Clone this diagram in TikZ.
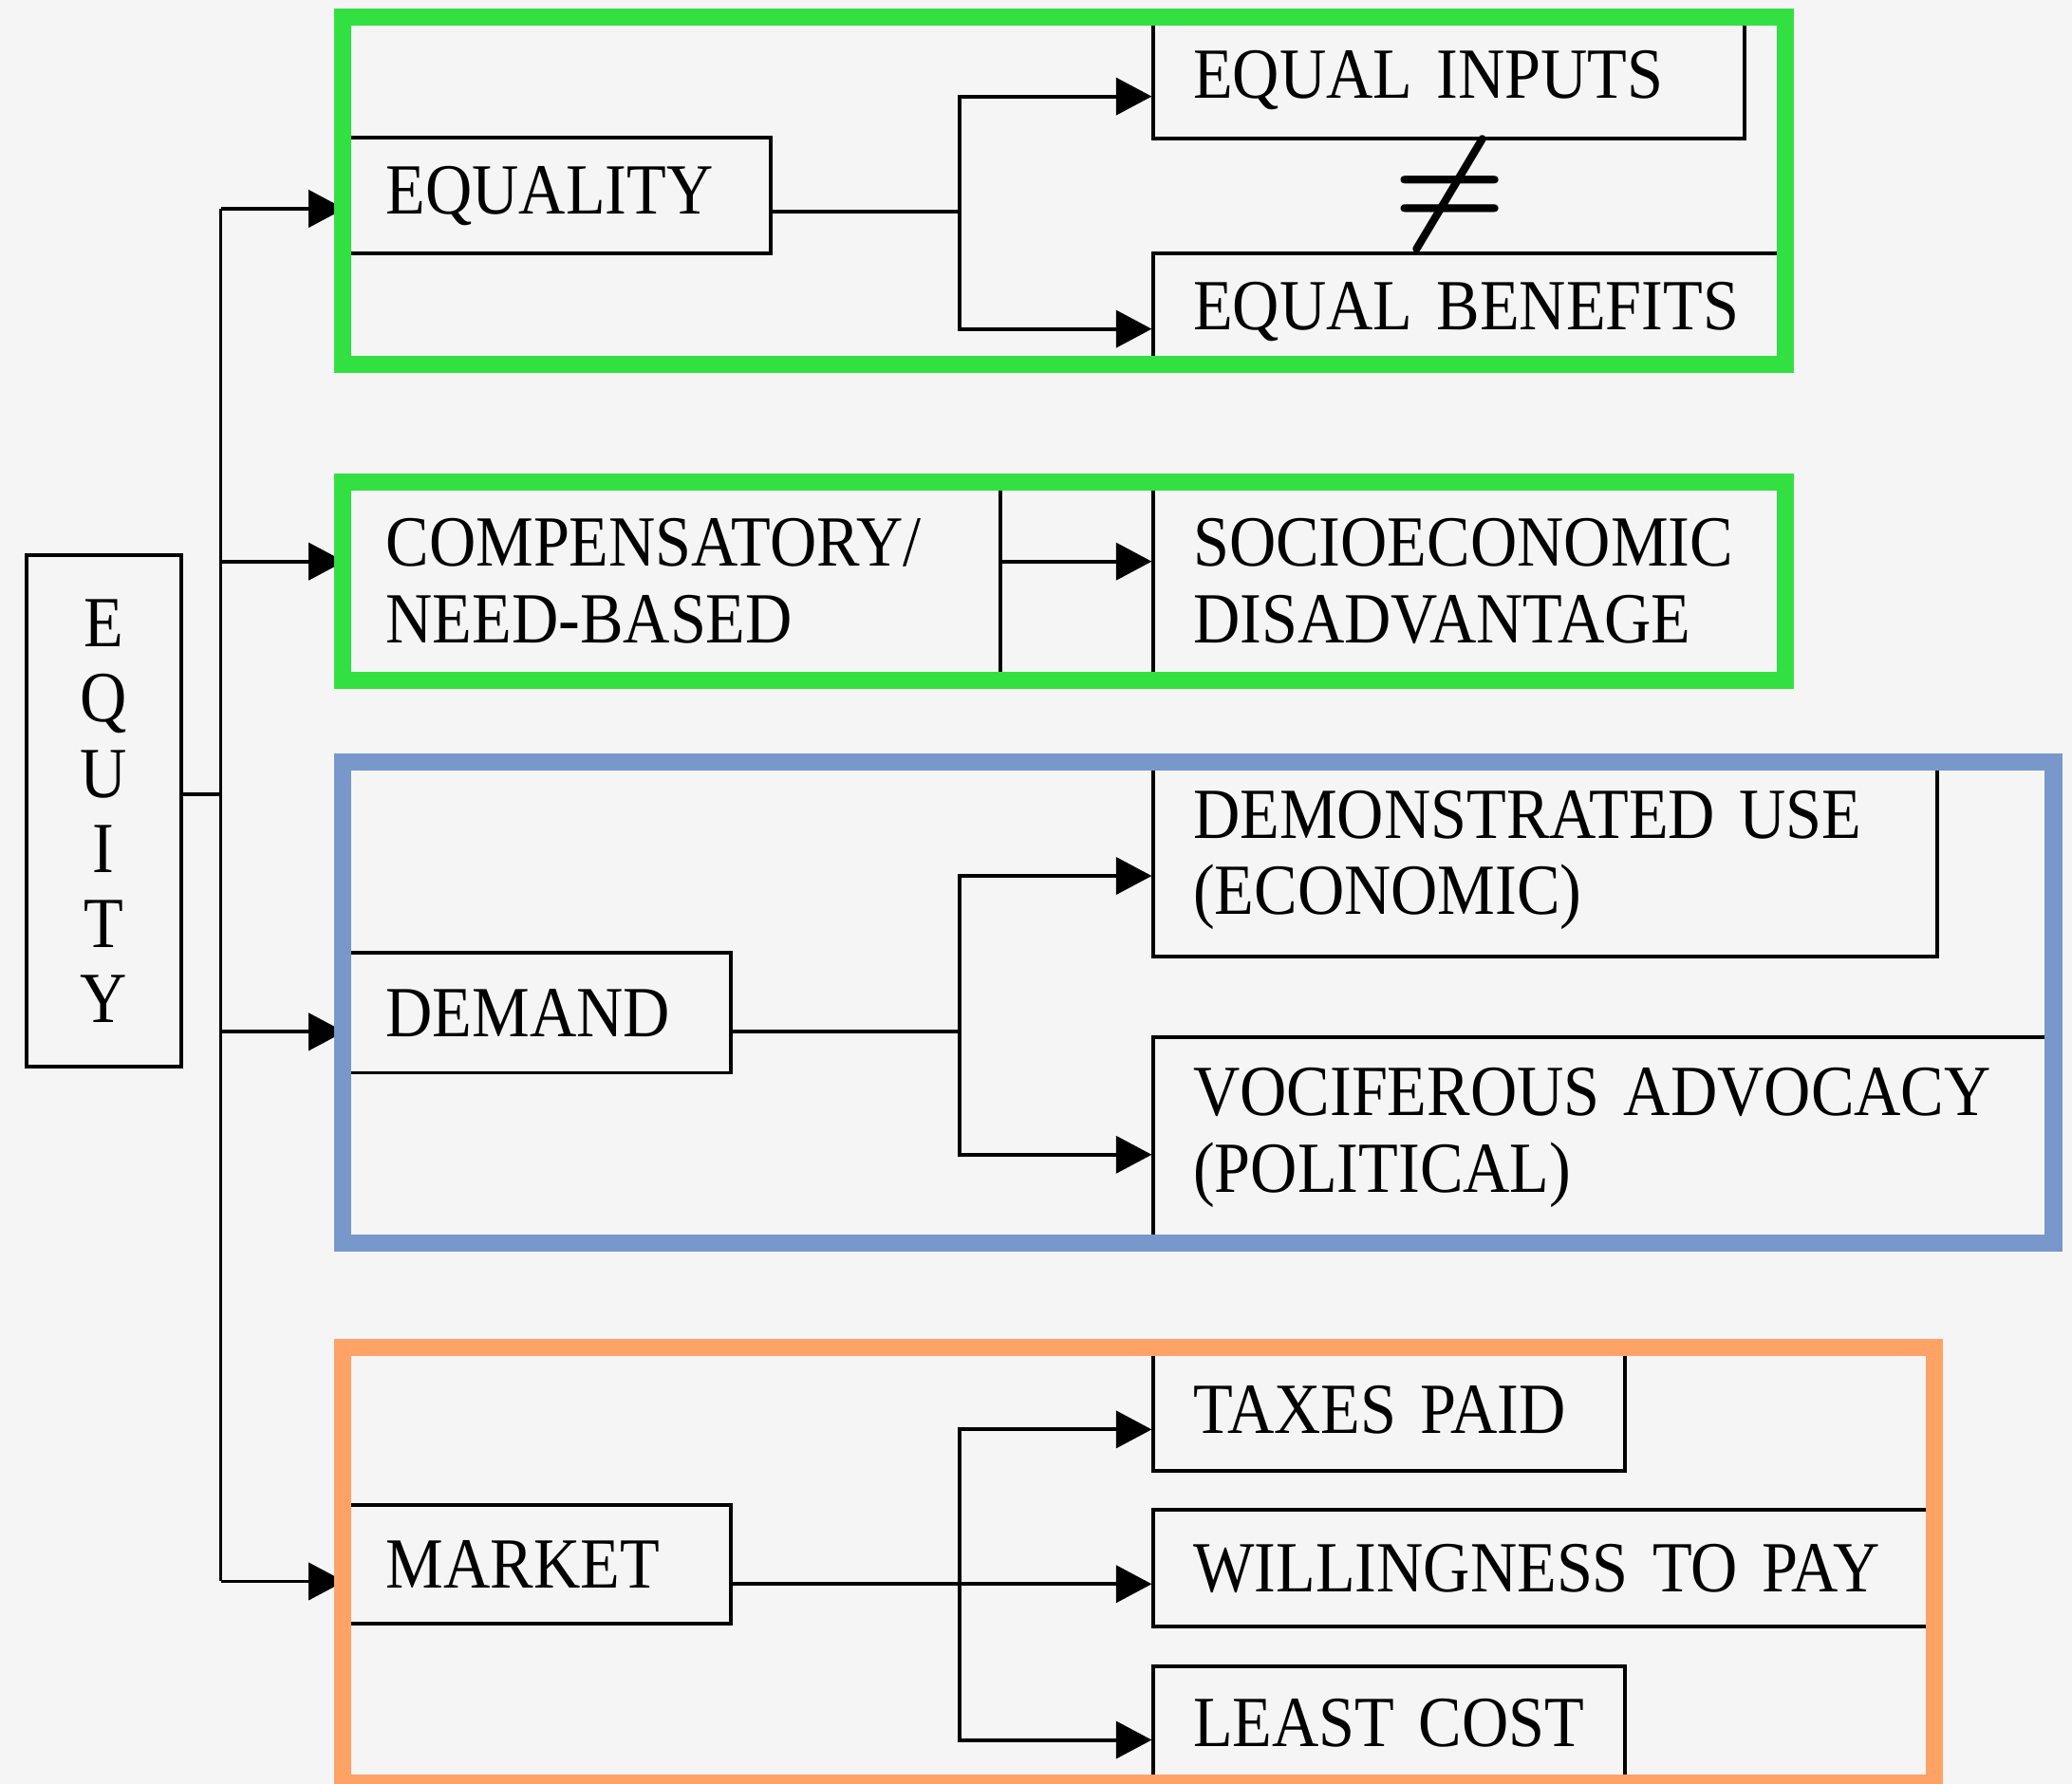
\documentclass[tikz,border=0pt]{standalone}
\usepackage{fontspec}
\setmainfont{Liberation Serif}[FakeStretch=0.9, WordSpace=0.6]
\usetikzlibrary{arrows.meta}
\hyphenpenalty=10000
\exhyphenpenalty=10000
\definecolor{bggray}{RGB}{245,245,245}
\definecolor{framegreen}{RGB}{50,224,66}
\definecolor{frameblue}{RGB}{120,152,204}
\definecolor{frameorange}{RGB}{255,162,102}
\tikzset{
  box/.style={draw, line width=0.8pt, inner xsep=0.3cm, inner ysep=0pt, align=left,
    font=\fontsize{15.5}{16.5}\selectfont},
  link/.style={line width=0.8pt},
  arr/.style={line width=0.8pt, -{Triangle[length=2.7mm,width=2.8mm]}},
  frame/.style={line width=1.3mm}
}

\begin{document}
\begin{tikzpicture}[x=0.1mm, y=-0.1mm]
    \fill [bggray] (0,0) rectangle (1568,1350);
    \useasboundingbox (0,0) rectangle (1568,1350);
    \node [box, align=center, text width=0.57cm, minimum height=3.87cm, font=\fontsize{15.5}{16.2}\selectfont] (equity) at (78.5,614) {E\\Q\\U\\I\\T\\Y};
    \node [box, text width=2.61cm, minimum height=0.88cm] (equality) at (422.5,148) {EQUALITY};
    \node [box, text width=3.87cm, minimum height=0.875cm] (inputs) at (1096.5,61) {EQUAL INPUTS};
    \node [box, text width=4.19cm, minimum height=0.88cm] (benefits) at (1112.5,236) {EQUAL BENEFITS};
    \node [box, text width=4.35cm, minimum height=1.40cm] (comp) at (509.5,440) {COMPENSATORY/\\NEED-BASED};
    \node [box, text width=4.19cm, minimum height=1.40cm] (socio) at (1112.5,440) {SOCIOECONOMIC\\DISADVANTAGE};
    \node [box, text width=2.31cm, minimum height=0.91cm] (demand) at (407.5,766.5) {DEMAND};
    \node [box, text width=5.33cm, minimum height=1.46cm] (use) at (1169.5,651) {DEMONSTRATED USE\\(ECONOMIC)};
    \node [box, text width=6.19cm, minimum height=1.52cm] (advocacy) at (1212.5,861) {VOCIFEROUS ADVOCACY\\(POLITICAL)};
    \node [box, text width=2.31cm, minimum height=0.90cm] (market) at (407.5,1184) {MARKET};
    \node [box, text width=2.97cm, minimum height=0.91cm] (taxes) at (1051.5,1067.5) {TAXES PAID};
    \node [box, text width=5.28cm, minimum height=0.88cm] (pay) at (1167,1187) {WILLINGNESS TO PAY};
    \node [box, text width=2.97cm, minimum height=0.87cm] (cost) at (1051.5,1304.5) {LEAST COST};
    \node [scale=2.75, inner sep=0pt, font=\boldmath] (neq) at (1097,147) {$\neq$};
    \coordinate (j0) at (167,601);
    \coordinate (j1) at (167,158);
    \coordinate (j2) at (167,425);
    \coordinate (j3) at (167,781);
    \coordinate (j4) at (167,1197);
    \draw [link] (equity.east |- j0) -- (j0);
    \draw [link] (j1) -- (j4);
    \draw [arr] (j1) -- (equality.west |- j1);
    \draw [arr] (j2) -- (comp.west |- j2);
    \draw [arr] (j3) -- (demand.west |- j3);
    \draw [arr] (j4) -- (market.west |- j4);
    \coordinate (s1) at (726,160);
    \draw [link] (equality.east |- s1) -- (s1);
    \draw [arr] (s1) |- (inputs.west |- 0,73);
    \draw [arr] (s1) |- (benefits.west |- 0,249);
    \draw [arr] (comp.east |- 0,425) -- (socio.west |- 0,425);
    \coordinate (s3) at (726,781);
    \draw [link] (demand.east |- s3) -- (s3);
    \draw [arr] (s3) |- (use.west |- 0,663);
    \draw [arr] (s3) |- (advocacy.west |- 0,874);
    \coordinate (s4) at (726,1199);
    \draw [arr] (market.east |- s4) -- (pay.west |- s4);
    \draw [arr] (s4) |- (taxes.west |- 0,1082);
    \draw [arr] (s4) |- (cost.west |- 0,1317);
    \draw [frame, framegreen] (259,13) rectangle (1351,276);
    \draw [frame, framegreen] (259,365) rectangle (1351,515);
    \draw [frame, frameblue] (259,577) rectangle (1554,941);
    \draw [frame, frameorange] (259,1020) rectangle (1464,1350);
\end{tikzpicture}
\end{document}
